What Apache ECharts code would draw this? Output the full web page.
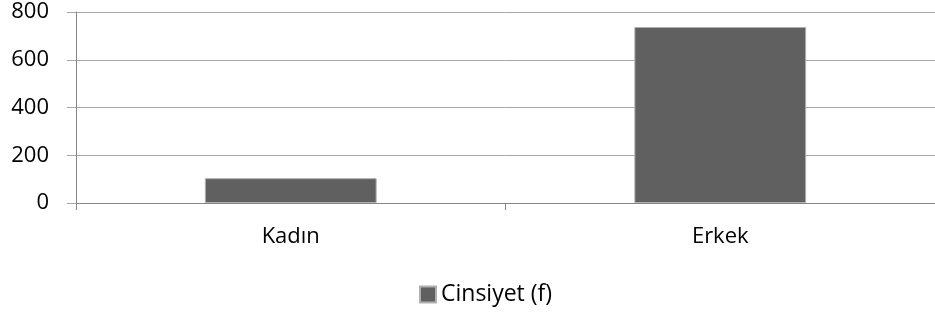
<!DOCTYPE html>
<html><head><meta charset="utf-8">
<script src="https://cdn.jsdelivr.net/npm/echarts@6/dist/echarts.min.js"></script>
<style>html,body{margin:0;padding:0;background:#fff}#c{width:935px;height:317px}</style>
</head><body><div id="c"></div>
<script>
var categories = ['Kadın', 'Erkek'];
var seriesName = 'Cinsiyet (f)';
var values = [104, 737];
var chart = echarts.init(document.getElementById('c'));
var font = '"Open Sans", "Liberation Sans", sans-serif';
chart.setOption({
  animation: false,
  grid: {left: 76, right: -5, top: 12, bottom: 114, containLabel: false},
  legend: {
    data: [seriesName], top: 283, left: 419, padding: 0, itemWidth: 16, itemHeight: 16, itemGap: 4,
    icon: 'rect',
    textStyle: {fontFamily: font, fontSize: 23, color: '#000'}
  },
  xAxis: {
    type: 'category', data: categories,
    axisLine: {lineStyle: {color: '#868686', width: 1}},
    axisTick: {show: true, length: 7, lineStyle: {color: '#868686'}},
    axisLabel: {fontFamily: font, fontSize: 22, color: '#000', margin: 23}
  },
  yAxis: {
    type: 'value', min: 0, max: 800, interval: 200,
    axisLine: {show: true, lineStyle: {color: '#868686'}},
    axisTick: {show: true, length: 9, lineStyle: {color: '#a6a6a6'}},
    splitLine: {lineStyle: {color: '#a6a6a6'}},
    axisLabel: {fontFamily: font, fontSize: 22, color: '#000', margin: 27}
  },
  series: [{
    name: seriesName, type: 'bar', data: values, barCategoryGap: '60%',
    itemStyle: {color: '#606060', borderColor: '#b0b0b0', borderWidth: 1}
  }]
});
</script></body></html>
